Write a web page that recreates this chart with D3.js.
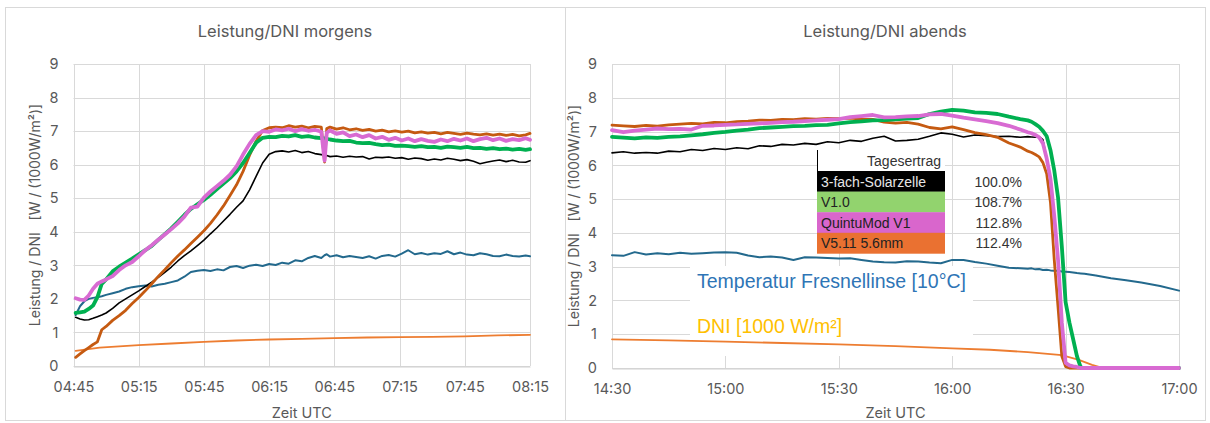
<!DOCTYPE html>
<html>
<head>
<meta charset="utf-8">
<script src="https://cdn.jsdelivr.net/npm/d3@7"></script>
<style>
  html, body { margin: 0; padding: 0; background: #fff; }
  svg { display: block; }
</style>
</head>
<body>
<svg id="chart" width="1210" height="423"></svg>
<script>
// ---------- Data ----------
const seriesNames = ["3-fach-Solarzelle", "V1.0", "QuintuMod V1", "V5.11 5.6mm"];
const tagesertrag = ["100.0%", "108.7%", "112.8%", "112.4%"];
const yTicks = [0, 1, 2, 3, 4, 5, 6, 7, 8, 9];

// Morning: minutes after 04:45 UTC
const morningStart = "04:45";
const morningTicks = ["04:45", "05:15", "05:45", "06:15", "06:45", "07:15", "07:45", "08:15"];
const morningMinutes = [1, 3, 5, 7, 9, 11, 13, 15,
  18, 21, 24, 27, 30, 33, 36, 39, 42, 45, 48, 51, 54, 57, 60, 63, 66, 69, 72, 75, 78, 81, 84, 87, 90, 93, 96, 99, 102, 105, 108, 111, 114,
  115.5, 116.5,
  118, 121, 124, 127, 130, 133, 136, 139, 142, 145, 148, 151, 154, 157, 160, 163, 166, 169, 172, 175, 178, 181, 184, 187, 190, 193, 196, 199, 202, 205, 208,
  210];
const morningSolarzelle = [1.45, 1.40, 1.37, 1.38, 1.42, 1.47, 1.52, 1.58,
  1.72, 1.88, 2.00, 2.12, 2.24, 2.37, 2.50, 2.64, 2.79, 2.95, 3.13, 3.29, 3.43, 3.59, 3.75, 3.94, 4.12, 4.32, 4.52, 4.73, 4.92, 5.25, 5.65, 6.05, 6.31, 6.39, 6.41, 6.38, 6.42, 6.36, 6.39, 6.33, 6.30,
  6.28, 6.27,
  6.24, 6.26, 6.22, 6.25, 6.23, 6.24, 6.17, 6.22, 6.21, 6.23, 6.19, 6.21, 6.16, 6.20, 6.18, 6.13, 6.17, 6.14, 6.19, 6.16, 6.12, 6.15, 6.10, 6.03, 6.07, 6.11, 6.14, 6.09, 6.13, 6.08, 6.07,
  6.12];
const morningV10 = [1.58, 1.60, 1.62, 1.70, 1.80, 2.05, 2.45, 2.58,
  2.82, 2.96, 3.08, 3.20, 3.33, 3.45, 3.58, 3.76, 3.93, 4.10, 4.30, 4.50, 4.68, 4.82, 4.95, 5.10, 5.27, 5.44, 5.60, 5.80, 6.05, 6.35, 6.65, 6.80, 6.83, 6.82, 6.86, 6.84, 6.88, 6.83, 6.85, 6.81, 6.79,
  6.78, 6.77,
  6.75, 6.72, 6.70, 6.71, 6.66, 6.64, 6.65, 6.61, 6.58, 6.60, 6.56, 6.57, 6.55, 6.53, 6.55, 6.52, 6.53, 6.50, 6.54, 6.52, 6.50, 6.53, 6.49, 6.50, 6.47, 6.49, 6.46, 6.48, 6.45, 6.47, 6.44,
  6.46];
const morningQuintuMod = [2.02, 1.98, 1.97, 2.10, 2.30, 2.45, 2.52, 2.58,
  2.68, 2.86, 3.00, 3.10, 3.27, 3.45, 3.60, 3.76, 3.92, 4.08, 4.25, 4.45, 4.72, 4.75, 5.02, 5.20, 5.36, 5.52, 5.70, 5.95, 6.30, 6.62, 6.88, 7.00, 6.98, 7.05, 7.02, 7.07, 7.00, 7.06, 7.01, 7.04, 6.98,
  6.12, 6.95,
  7.02, 6.92, 6.96, 6.85, 6.90, 6.82, 6.88, 6.78, 6.83, 6.74, 6.80, 6.72, 6.78, 6.70, 6.76, 6.71, 6.68, 6.75, 6.70, 6.77, 6.72, 6.78, 6.70, 6.76, 6.80, 6.73, 6.78, 6.71, 6.76, 6.73, 6.79,
  6.74];
const morningV511 = [0.26, 0.36, 0.46, 0.55, 0.64, 0.72, 1.08, 1.18,
  1.36, 1.50, 1.66, 1.86, 2.04, 2.24, 2.45, 2.67, 2.87, 3.08, 3.28, 3.46, 3.65, 3.84, 4.03, 4.25, 4.50, 4.77, 5.08, 5.40, 5.80, 6.28, 6.70, 7.02, 7.10, 7.12, 7.10, 7.16, 7.12, 7.15, 7.10, 7.14, 7.12,
  6.08, 7.08,
  7.12, 7.06, 7.10, 7.04, 7.07, 7.02, 7.05, 7.00, 7.03, 6.98, 7.01, 6.97, 7.00, 6.95, 6.98, 6.94, 6.96, 6.92, 6.96, 6.93, 6.90, 6.94, 6.91, 6.89, 6.92, 6.88, 6.91, 6.87, 6.90, 6.86, 6.89,
  6.93];
const morningTemp = [1.52, 1.78, 1.93, 2.00, 2.03, 2.05, 2.08, 2.12,
  2.17, 2.22, 2.30, 2.35, 2.38, 2.40, 2.37, 2.42, 2.45, 2.50, 2.55, 2.66, 2.80, 2.84, 2.86, 2.83, 2.88, 2.85, 2.95, 2.98, 2.92, 2.99, 3.02, 2.98, 3.04, 3.01, 3.08, 3.05, 3.15, 3.12, 3.22, 3.28, 3.22,
  3.30, 3.33,
  3.26, 3.30, 3.24, 3.28, 3.25, 3.22, 3.27, 3.20, 3.28, 3.31, 3.26, 3.35, 3.45, 3.33, 3.37, 3.32, 3.36, 3.34, 3.42, 3.33, 3.38, 3.32, 3.30, 3.36, 3.33, 3.28, 3.27, 3.32, 3.28, 3.26, 3.29,
  3.27];
const morningDniMinutes = [1, 12, 30, 45, 60, 75, 90, 105, 120, 135, 150, 165, 180, 195, 210];
const morningDni = [0.45, 0.55, 0.62, 0.67, 0.72, 0.76, 0.79, 0.81, 0.83, 0.85, 0.86, 0.87, 0.88, 0.91, 0.93];

// Evening: minutes after 14:30 UTC
const eveningStart = "14:30";
const eveningTicks = ["14:30", "15:00", "15:30", "16:00", "16:30", "17:00"];
const eveningMinutes = [0, 3, 6, 9, 12, 15, 18, 21, 24, 27, 30, 33, 36, 39, 42, 45, 48, 51, 54, 57, 60, 63, 66, 69, 72, 75, 78, 81, 84, 87, 90, 93, 96, 99, 102, 105, 108,
  110, 111, 112, 113, 114, 115, 116, 117, 118, 119, 120, 121, 122, 123, 124, 125,
  128, 132, 136, 140, 145, 150];
const eveningSolarzelle = [6.37, 6.40, 6.36, 6.38, 6.36, 6.42, 6.40, 6.47, 6.44, 6.50, 6.47, 6.52, 6.49, 6.58, 6.56, 6.62, 6.60, 6.65, 6.62, 6.70, 6.67, 6.74, 6.71, 6.80, 6.86, 6.72, 6.74, 6.77, 6.86, 6.96, 6.92, 6.84, 6.90, 6.88, 6.85, 6.86, 6.83,
  6.85, 6.84, 6.83, 6.85, 6.76, 6.20, 5.60, 4.50, 3.20, 1.35, 0.15, 0.05, 0, 0, 0, 0,
  0, 0, 0, 0, 0, 0];
const eveningV10 = [6.84, 6.82, 6.80, 6.83, 6.81, 6.84, 6.86, 6.89, 6.92, 6.96, 6.99, 7.03, 7.06, 7.10, 7.12, 7.14, 7.16, 7.17, 7.19, 7.20, 7.24, 7.28, 7.30, 7.33, 7.34, 7.36, 7.38, 7.40, 7.52, 7.59, 7.64, 7.62, 7.57, 7.55, 7.52, 7.44, 7.37,
  7.33, 7.29, 7.22, 7.14, 7.02, 6.86, 6.45, 5.85, 5.05, 3.60, 1.95, 1.35, 0.85, 0.35, 0.02, 0,
  0, 0, 0, 0, 0, 0];
const eveningQuintuMod = [7.04, 6.98, 7.03, 7.06, 7.09, 7.07, 7.08, 7.06, 7.17, 7.18, 7.20, 7.21, 7.23, 7.24, 7.26, 7.28, 7.29, 7.31, 7.33, 7.35, 7.37, 7.43, 7.46, 7.49, 7.42, 7.43, 7.45, 7.46, 7.51, 7.52, 7.47, 7.41, 7.36, 7.31, 7.25, 7.17, 7.06,
  6.98, 6.95, 6.90, 6.83, 6.65, 6.20, 5.60, 4.50, 3.20, 1.35, 0.15, 0.08, 0.05, 0.03, 0, 0,
  0, 0, 0, 0, 0, 0];
const eveningV511 = [7.19, 7.17, 7.15, 7.18, 7.16, 7.20, 7.22, 7.24, 7.23, 7.27, 7.26, 7.29, 7.31, 7.34, 7.33, 7.36, 7.35, 7.38, 7.37, 7.39, 7.38, 7.40, 7.37, 7.36, 7.28, 7.25, 7.27, 7.22, 7.12, 7.08, 7.14, 7.06, 6.97, 6.91, 6.83, 6.66, 6.54,
  6.42, 6.38, 6.32, 6.25, 6.08, 5.75, 4.90, 3.20, 1.80, 0.35, 0.04, 0, 0, 0, 0, 0,
  0, 0, 0, 0, 0, 0];
const eveningTemp = [3.34, 3.32, 3.43, 3.36, 3.40, 3.37, 3.41, 3.38, 3.40, 3.42, 3.43, 3.41, 3.33, 3.28, 3.30, 3.27, 3.20, 3.28, 3.27, 3.26, 3.24, 3.25, 3.20, 3.15, 3.13, 3.12, 3.16, 3.15, 3.12, 3.10, 3.20, 3.20, 3.14, 3.09, 3.03, 2.97, 2.95,
  2.94, 2.95, 2.92, 2.93, 2.90, 2.91, 2.89, 2.88, 2.88, 2.86, 2.85, 2.84, 2.83, 2.81, 2.80, 2.79,
  2.74, 2.66, 2.60, 2.53, 2.43, 2.29];
const eveningDniMinutes = [0, 15, 30, 45, 60, 75, 90, 100, 110, 119, 123.5, 127, 129.5, 131, 150];
const eveningDni = [0.85, 0.82, 0.78, 0.74, 0.70, 0.65, 0.58, 0.54, 0.47, 0.38, 0.24, 0.09, 0.01, 0, 0];

// ---------- Styling ----------
const FONT = "Inter, 'Noto Sans', sans-serif";
const TEXT_GRAY = "#595959";
const GRID = "#d9d9d9";
const lineStyles = {
  dni:    { color: "#ed7d31", width: 1.8 },
  temp:   { color: "#23698d", width: 2 },
  solar:  { color: "#000000", width: 1.6 },
  v511:   { color: "#c55a11", width: 2.8 },
  v10:    { color: "#00b050", width: 3.8 },
  quintu: { color: "#d86bd2", width: 3.8 }
};
const tableFills = ["#000000", "#92d36e", "#d966cc", "#ea7131"];
const tableText = ["#e6e6e6", "#222222", "#222222", "#222222"];

const svg = d3.select("#chart");

function clock(hhmm, offsetMin) {
  const [h, m] = hhmm.split(":").map(Number);
  return new Date(2024, 5, 1, h, m, 0, 0).getTime() + offsetMin * 60000;
}

function drawPanel(cfg) {
  const g = svg.append("g");
  // panel frame
  g.append("rect")
    .attr("x", cfg.frame.x).attr("y", cfg.frame.y)
    .attr("width", cfg.frame.w).attr("height", cfg.frame.h)
    .attr("fill", "#fff").attr("stroke", GRID).attr("stroke-width", 1);

  const x = d3.scaleTime()
    .domain([clock(cfg.start, 0), clock(cfg.ticks[cfg.ticks.length - 1], 0)])
    .range([cfg.plot.left, cfg.plot.right]);
  const y = d3.scaleLinear().domain([0, 9]).range([cfg.plot.bottom, cfg.plot.top]);
  const crisp = v => Math.round(v) + 0.5;

  // gridlines
  const grid = g.append("g");
  grid.selectAll("line.h").data(yTicks).join("line")
    .attr("x1", cfg.plot.left).attr("x2", cfg.plot.right)
    .attr("y1", d => crisp(y(d))).attr("y2", d => crisp(y(d)))
    .attr("stroke", GRID).attr("stroke-width", 1);
  grid.selectAll("line.v").data(cfg.ticks).join("line")
    .attr("x1", d => crisp(x(clock(d, 0)))).attr("x2", d => crisp(x(clock(d, 0))))
    .attr("y1", cfg.plot.top).attr("y2", cfg.plot.bottom)
    .attr("stroke", GRID).attr("stroke-width", 1);

  // y tick labels
  g.append("g").selectAll("text").data(yTicks).join("text")
    .attr("x", cfg.plot.left - 15).attr("y", d => y(d))
    .attr("dy", "0.36em").attr("text-anchor", "end")
    .attr("font-family", FONT).attr("font-size", 14.5).attr("fill", TEXT_GRAY)
    .text(d => d);

  // x axis with time labels
  const xAxis = d3.axisBottom(x)
    .tickValues(cfg.ticks.map(t => clock(t, 0)))
    .tickFormat(d3.timeFormat("%H:%M"))
    .tickSize(0).tickPadding(15);
  const ax = g.append("g").attr("transform", `translate(0,${crisp(cfg.plot.bottom)})`).call(xAxis);
  ax.select(".domain").attr("stroke", "#cfcfcf");
  ax.selectAll("text").attr("font-family", FONT).attr("font-size", 14.5).attr("fill", TEXT_GRAY);

  // titles
  g.append("text").attr("x", cfg.titleX).attr("y", 37).attr("text-anchor", "middle")
    .attr("font-family", FONT).attr("font-size", 16.5).attr("fill", TEXT_GRAY)
    .text(cfg.title);
  g.append("text").attr("x", (cfg.plot.left + cfg.plot.right) / 2).attr("y", 418)
    .attr("text-anchor", "middle")
    .attr("font-family", FONT).attr("font-size", 14.5).attr("fill", TEXT_GRAY)
    .text("Zeit UTC");
  g.append("text")
    .attr("transform", `translate(${cfg.yTitleX},${(cfg.plot.top + cfg.plot.bottom) / 2}) rotate(-90)`)
    .attr("text-anchor", "middle").attr("dy", "0.35em")
    .attr("font-family", FONT).attr("font-size", 14).attr("fill", TEXT_GRAY)
    .style("white-space", "pre")
    .text("Leistung / DNI   [W / (1000W/m²)]");

  if (cfg.beforeSeries) cfg.beforeSeries(g, x, y);

  // series
  const line = d3.line().x(d => x(d[0])).y(d => y(d[1]));
  cfg.series.forEach(s => {
    const pts = s.minutes.map((m, i) => [clock(cfg.start, m), s.values[i]]);
    g.append("path").datum(pts)
      .attr("d", line)
      .attr("fill", "none")
      .attr("stroke", lineStyles[s.key].color)
      .attr("stroke-width", lineStyles[s.key].width)
      .attr("stroke-linejoin", "round").attr("stroke-linecap", "round");
  });

  if (cfg.afterSeries) cfg.afterSeries(g, x, y);
}

// Morning panel
drawPanel({
  frame: { x: 5.5, y: 7.5, w: 560, h: 413 },
  plot: { left: 73.5, right: 530, top: 64, bottom: 366 },
  titleX: 285, yTitleX: 35,
  title: "Leistung/DNI morgens",
  start: morningStart, ticks: morningTicks,
  series: [
    { key: "dni", minutes: morningDniMinutes, values: morningDni },
    { key: "temp", minutes: morningMinutes, values: morningTemp },
    { key: "solar", minutes: morningMinutes, values: morningSolarzelle },
    { key: "v511", minutes: morningMinutes, values: morningV511 },
    { key: "v10", minutes: morningMinutes, values: morningV10 },
    { key: "quintu", minutes: morningMinutes, values: morningQuintuMod }
  ]
});

// Evening panel
drawPanel({
  frame: { x: 565.5, y: 7.5, w: 640, h: 413 },
  plot: { left: 612, right: 1179, top: 64, bottom: 368 },
  titleX: 885, yTitleX: 574,
  title: "Leistung/DNI abends",
  start: eveningStart, ticks: eveningTicks,
  series: [
    { key: "dni", minutes: eveningDniMinutes, values: eveningDni },
    { key: "temp", minutes: eveningMinutes, values: eveningTemp },
    { key: "solar", minutes: eveningMinutes, values: eveningSolarzelle },
    { key: "v511", minutes: eveningMinutes, values: eveningV511 },
    { key: "v10", minutes: eveningMinutes, values: eveningV10 },
    { key: "quintu", minutes: eveningMinutes, values: eveningQuintuMod }
  ],
  beforeSeries: (g) => {
    // label boxes for the temperature and DNI curves
    g.append("rect").attr("x", 690).attr("y", 266).attr("width", 283).attr("height", 34).attr("fill", "#fff");
    g.append("rect").attr("x", 690).attr("y", 300).attr("width", 283).attr("height", 56).attr("fill", "#fff");
    g.append("text").attr("x", 697).attr("y", 288)
      .attr("font-family", "'Liberation Sans', Arial, sans-serif").attr("font-size", 19.5)
      .attr("fill", "#2e75b6").text("Temperatur Fresnellinse [10°C]");
    g.append("text").attr("x", 697).attr("y", 332.5)
      .attr("font-family", "'Liberation Sans', Arial, sans-serif").attr("font-size", 19.5)
      .attr("fill", "#ffc000").text("DNI [1000 W/m²]");
  },
  afterSeries: (g) => {
    // daily yield table
    const tx = 817, labelW = 128, valueRight = 1022, top = 150, headH = 21, rowH = 20.6;
    const tf = "'Liberation Sans', Arial, sans-serif";
    g.append("rect").attr("x", tx).attr("y", top).attr("width", labelW).attr("height", headH).attr("fill", "#fff");
    g.append("line").attr("x1", tx + 0.5).attr("x2", tx + 0.5).attr("y1", top).attr("y2", top + headH)
      .attr("stroke", "#000").attr("stroke-width", 1);
    g.append("text").attr("x", tx + labelW - 4).attr("y", top + 15.5).attr("text-anchor", "end")
      .attr("font-family", tf).attr("font-size", 14).attr("fill", "#333").text("Tagesertrag");
    const rows = g.append("g").selectAll("g").data(seriesNames).join("g")
      .attr("transform", (d, i) => `translate(0,${top + headH + i * rowH})`);
    rows.append("rect").attr("x", tx).attr("width", labelW).attr("height", rowH + 0.3)
      .attr("fill", (d, i) => tableFills[i]);
    rows.append("text").attr("x", tx + 4).attr("y", 15.5)
      .attr("font-family", tf).attr("font-size", 14)
      .attr("fill", (d, i) => tableText[i]).text(d => d);
    rows.append("text").attr("x", valueRight).attr("y", 15.5).attr("text-anchor", "end")
      .attr("font-family", tf).attr("font-size", 14).attr("fill", "#333")
      .text((d, i) => tagesertrag[i]);
  }
});
</script>
</body>
</html>
